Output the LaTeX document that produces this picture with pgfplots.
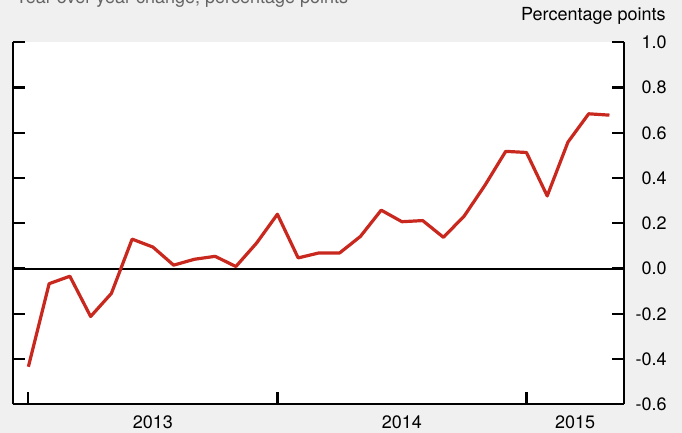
\documentclass[border=0pt]{standalone}
\usepackage{fontspec}
\setmainfont{TeX Gyre Heros}
\usepackage{pgfplots}
\pgfplotsset{compat=1.18}
\definecolor{bggray}{RGB}{240,240,240}
\definecolor{linered}{RGB}{200,40,30}
\definecolor{titlegray}{RGB}{100,100,100}

\pgfplotstableread{
idx val
0  -0.434
1  -0.067
2  -0.034
3  -0.212
4  -0.110
5   0.130
6   0.095
7   0.015
8   0.041
9   0.054
10  0.009
11  0.113
12  0.240
13  0.047
14  0.069
15  0.069
16  0.142
17  0.258
18  0.207
19  0.212
20  0.138
21  0.232
22  0.368
23  0.518
24  0.513
25  0.321
26  0.559
27  0.684
28  0.678
}\ppdata

\pgfplotsset{
  chartframe/.style={
    at={(6.5pt,14.35pt)}, anchor=south west,
    scale only axis, width=305.5pt, height=181pt,
    xmin=-0.74, xmax=28.7, ymin=-0.6, ymax=1.0,
    tick align=inside, major tick length=6pt,
    axis line style={line width=1.1pt, black},
    tick style={line width=1.1pt, black},
    ytick={-0.6,-0.4,-0.2,0,0.2,0.4,0.6,0.8,1.0},
  }
}

\begin{document}
\begin{tikzpicture}
\useasboundingbox (0,0) rectangle (341pt,216.5pt);
\fill[bggray] (0,0) rectangle (341pt,216.5pt);
\begin{scope}
\clip (0,0) rectangle (341pt,216.5pt);
\node[anchor=base west, inner sep=0pt, text=titlegray, font=\fontsize{9}{10}\selectfont]
  at (7.5pt,214.85pt) {Year-over-year change, percentage points};
\end{scope}
\node[anchor=base east, inner sep=0pt, font=\fontsize{9}{10}\selectfont]
  at (333pt,206.15pt) {Percentage points};

\begin{axis}[chartframe,
  axis background/.style={fill=white},
  axis x line*=bottom, axis y line*=right,
  font=\fontsize{9}{10}\selectfont,
  xtick={0,12,24}, xticklabels={},
  extra x ticks={6,18,26.35},
  extra x tick labels={2013,2014,2015},
  extra x tick style={major tick length=0pt,
    xticklabel style={anchor=center, inner sep=0pt, yshift=-9pt}},
  yticklabels={-0.6,-0.4,-0.2,0.0,0.2,0.4,0.6,0.8,1.0},
  yticklabel style={anchor=east, inner sep=0pt, xshift=21.5pt},
]
\addplot[black, line width=1pt] coordinates {(-0.74,0) (28.7,0)};
\addplot[linered, line width=1.6pt, line join=round] table[x=idx, y=val] {\ppdata};
\end{axis}

\begin{axis}[chartframe,
  axis x line=none, axis y line*=left,
  yticklabels={},
]
\end{axis}
\end{tikzpicture}
\end{document}
